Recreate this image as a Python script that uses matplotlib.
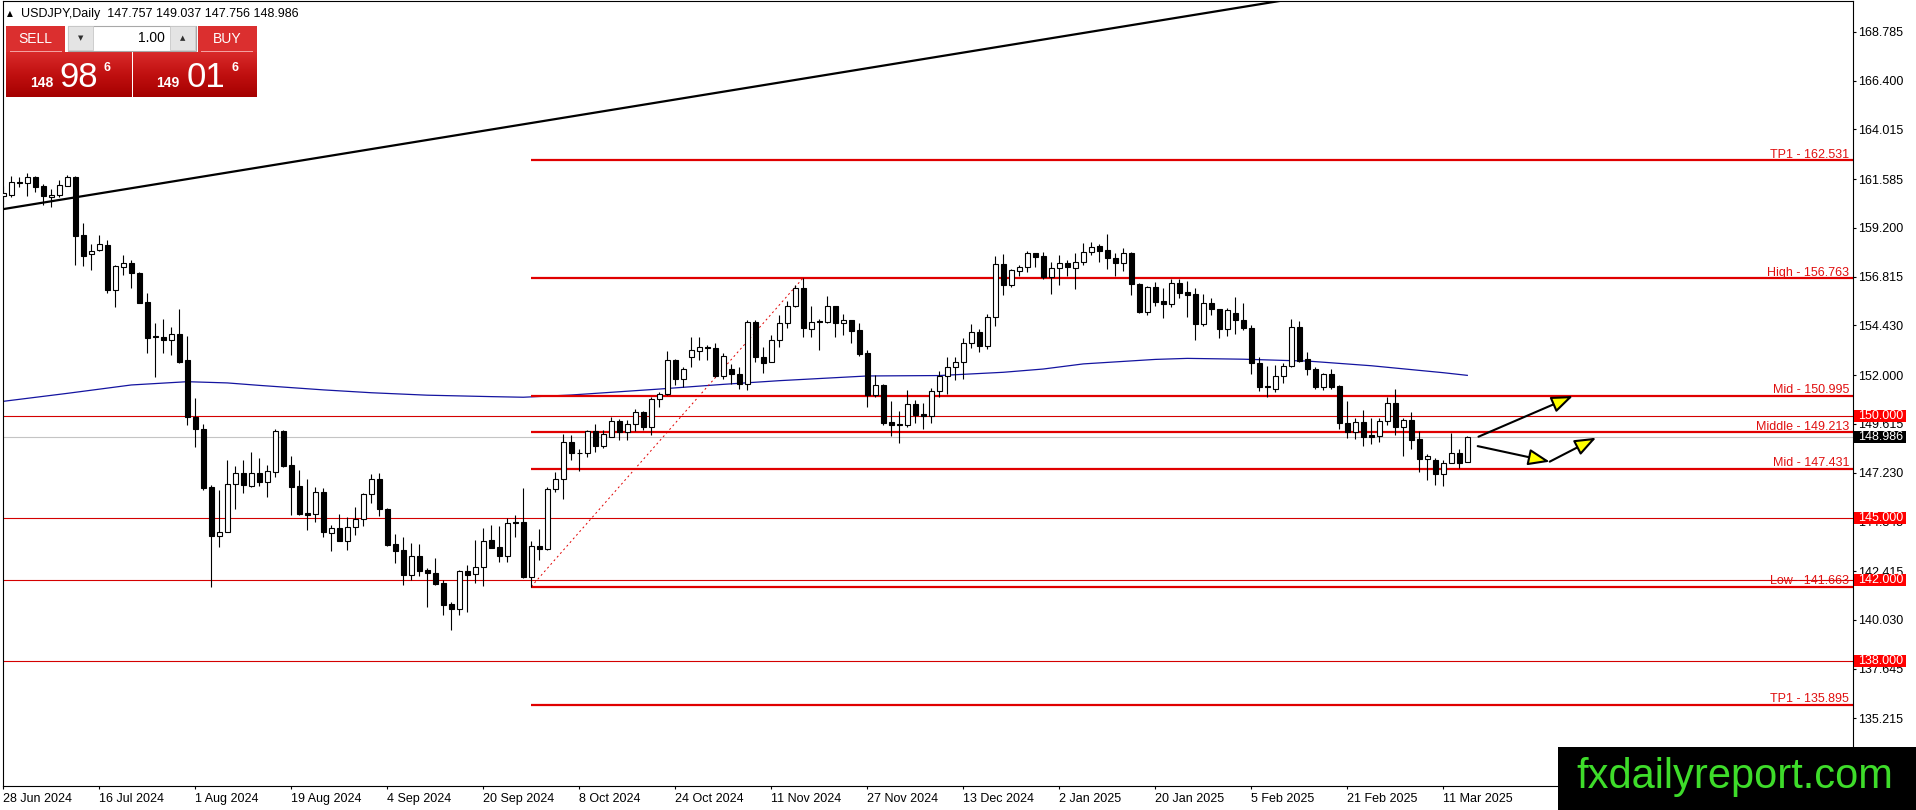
import numpy as np
import pandas as pd
import matplotlib
matplotlib.use('Agg')
import matplotlib.pyplot as plt
from matplotlib.patches import Rectangle
from matplotlib.colors import LinearSegmentedColormap
import matplotlib.transforms as mtransforms

plt.rcParams['font.family'] = ['Liberation Sans', 'DejaVu Sans']

# ---------------- data ----------------
symbol_title = "USDJPY,Daily  147.757 149.037 147.756 148.986"
dates = [d for d in pd.bdate_range('2024-06-28', '2025-03-14')
         if d.strftime('%m-%d') not in ('12-25', '01-01')]

opens = [160.76, 160.80, 161.44, 161.42, 161.71, 161.25, 160.70, 160.82, 161.25, 161.67,
         158.85, 157.90, 158.10, 158.37, 156.17, 157.30, 157.47, 156.98, 155.56, 153.90,
         153.88, 153.72, 154.02, 152.74, 149.97, 149.35, 146.51, 144.15, 144.31, 146.67,
         147.23, 146.60, 147.23, 146.79, 147.28, 149.27, 147.61, 146.58, 145.24, 145.21,
         146.27, 144.26, 144.51, 143.91, 144.56, 144.95, 146.19, 146.91, 145.44, 143.74,
         143.45, 142.23, 143.16, 142.47, 142.34, 141.85, 140.81, 140.58, 142.42, 142.28,
         142.60, 143.94, 143.61, 143.16, 144.82, 144.82, 142.15, 143.64, 143.52, 146.41,
         146.90, 148.71, 148.20, 148.17, 149.28, 148.55, 148.99, 149.74, 149.23, 149.59,
         150.18, 149.48, 150.82, 151.06, 152.74, 151.79, 152.90, 153.20, 153.36, 153.31,
         151.96, 152.30, 152.08, 151.59, 154.59, 152.90, 152.65, 153.72, 154.56, 155.39,
         156.24, 154.28, 154.64, 154.61, 155.39, 154.53, 154.69, 154.20, 153.10, 151.03,
         151.52, 149.69, 149.61, 149.56, 150.57, 150.10, 150.00, 151.22, 151.96, 152.41,
         152.62, 153.59, 154.12, 153.42, 154.82, 157.42, 156.41, 157.11, 157.30, 157.95,
         157.82, 156.81, 157.25, 157.46, 157.25, 157.55, 158.04, 158.31, 158.12, 157.71,
         157.46, 157.99, 156.46, 155.10, 156.29, 155.62, 155.46, 156.49, 156.06, 155.99,
         154.48, 155.51, 155.22, 154.24, 155.02, 154.72, 154.33, 152.57, 151.47, 151.31,
         151.95, 152.44, 154.36, 152.77, 152.28, 151.43, 152.05, 151.47, 149.64, 149.24,
         149.69, 149.07, 149.02, 149.77, 150.62, 149.48, 149.80, 148.86, 147.91, 147.85,
         147.15, 147.69, 148.18, 147.757]
highs = [161.27, 161.74, 161.71, 161.90, 161.73, 161.35, 161.08, 161.55, 161.79, 161.74,
         159.42, 158.41, 158.85, 158.61, 157.39, 157.87, 157.63, 157.06, 156.00, 154.53,
         154.73, 154.37, 155.22, 153.91, 150.86, 149.60, 146.63, 146.38, 147.87, 147.55,
         147.85, 148.24, 147.93, 147.61, 149.35, 149.32, 148.05, 147.36, 146.91, 146.55,
         146.47, 144.67, 145.21, 145.05, 145.57, 146.22, 147.17, 147.23, 145.49, 144.23,
         144.10, 143.78, 143.74, 142.55, 143.04, 141.98, 140.92, 142.47, 142.72, 143.94,
         144.51, 144.67, 144.62, 145.03, 145.18, 146.46, 143.90, 144.50, 146.51, 147.28,
         149.12, 149.07, 148.39, 149.34, 149.61, 149.31, 149.97, 149.84, 149.80, 150.33,
         150.26, 150.91, 151.19, 153.20, 152.77, 152.38, 153.85, 153.85, 153.47, 153.59,
         153.06, 152.54, 152.38, 154.69, 154.69, 153.36, 153.96, 154.94, 155.64, 156.40,
         156.763, 155.38, 154.77, 155.87, 155.39, 154.98, 154.72, 154.53, 153.23, 152.01,
         151.57, 150.75, 150.26, 151.27, 150.78, 150.65, 151.35, 152.20, 152.87, 152.87,
         153.80, 154.50, 154.28, 154.99, 157.82, 157.92, 157.17, 157.38, 158.09, 157.95,
         158.03, 157.55, 157.87, 157.63, 157.95, 158.44, 158.52, 158.41, 158.90, 157.95,
         158.20, 158.04, 156.49, 156.36, 156.57, 156.24, 156.68, 156.68, 156.62, 156.24,
         155.97, 155.75, 155.22, 155.26, 155.83, 155.54, 154.45, 152.87, 152.44, 152.49,
         152.61, 154.77, 154.66, 153.15, 152.38, 152.12, 152.28, 151.51, 150.75, 149.89,
         150.29, 149.89, 149.89, 150.95, 151.30, 149.89, 150.18, 149.28, 148.14, 147.93,
         147.85, 149.19, 148.37, 149.037]
lows = [160.28, 160.72, 161.22, 160.76, 160.98, 160.32, 160.24, 160.73, 161.25, 157.39,
        157.34, 157.14, 158.05, 156.04, 155.35, 156.89, 156.27, 155.54, 153.10, 151.93,
        153.10, 152.98, 152.61, 149.56, 148.50, 146.38, 141.66, 143.61, 144.31, 145.44,
        146.25, 146.55, 146.58, 146.06, 147.04, 147.53, 145.16, 145.16, 144.43, 144.84,
        144.10, 143.42, 143.91, 143.45, 144.18, 144.62, 145.76, 145.11, 143.65, 142.83,
        141.74, 141.98, 142.18, 140.68, 141.74, 140.27, 139.54, 140.27, 140.43, 141.85,
        141.69, 143.56, 142.88, 142.88, 144.08, 142.07, 141.663, 142.98, 143.46, 146.30,
        145.92, 147.85, 147.33, 148.01, 148.26, 148.42, 148.99, 148.83, 148.83, 149.28,
        149.32, 149.07, 150.45, 151.03, 151.51, 151.40, 152.38, 152.74, 152.74, 151.89,
        151.80, 151.56, 151.30, 151.27, 152.66, 152.12, 152.65, 153.39, 154.33, 155.31,
        153.85, 153.85, 153.23, 154.53, 153.88, 153.96, 153.56, 152.93, 150.46, 150.91,
        149.56, 149.02, 148.66, 149.48, 149.64, 149.35, 149.67, 150.92, 151.10, 151.76,
        151.79, 153.31, 153.15, 153.28, 154.40, 155.92, 156.33, 156.85, 157.06, 157.30,
        156.68, 155.97, 156.40, 156.85, 156.19, 157.38, 157.87, 157.55, 157.17, 156.85,
        157.10, 155.92, 155.02, 154.94, 155.38, 154.78, 155.34, 155.75, 154.83, 153.72,
        154.40, 154.94, 153.80, 153.91, 153.99, 154.20, 152.05, 151.24, 150.91, 151.19,
        151.63, 152.38, 152.65, 151.99, 151.30, 151.27, 151.30, 149.39, 148.91, 148.86,
        148.54, 148.63, 148.75, 149.56, 149.07, 148.05, 148.37, 147.28, 146.87, 146.63,
        146.58, 147.69, 147.44, 147.756]
closes = [160.89, 161.46, 161.42, 161.68, 161.22, 160.76, 160.82, 161.30, 161.67, 158.80,
          157.82, 158.08, 158.42, 156.17, 157.33, 157.47, 157.01, 155.54, 153.83, 153.86,
          153.72, 154.02, 152.66, 149.97, 149.35, 146.46, 144.15, 144.31, 146.67, 147.23,
          146.63, 147.20, 146.79, 147.31, 149.27, 147.56, 146.55, 145.21, 145.18, 146.27,
          144.35, 144.51, 143.91, 144.56, 144.95, 146.19, 146.91, 145.44, 143.70, 143.42,
          142.23, 143.16, 142.44, 142.34, 141.79, 140.76, 140.58, 142.42, 142.24, 142.60,
          143.89, 143.56, 143.16, 144.77, 144.75, 142.15, 143.64, 143.52, 146.41, 146.90,
          148.71, 148.17, 148.17, 149.28, 148.55, 149.12, 149.74, 149.23, 149.59, 150.18,
          149.48, 150.82, 151.06, 152.74, 151.79, 152.30, 153.23, 153.36, 153.33, 151.96,
          152.95, 152.05, 151.59, 154.59, 152.90, 152.61, 153.70, 154.56, 155.39, 156.24,
          154.33, 154.61, 154.61, 155.39, 154.53, 154.72, 154.17, 153.03, 151.03, 151.52,
          149.68, 149.56, 149.56, 150.57, 150.05, 150.00, 151.22, 151.96, 152.41, 152.62,
          153.59, 154.12, 153.42, 154.82, 157.42, 156.41, 157.14, 157.30, 157.95, 157.79,
          156.78, 157.25, 157.46, 157.30, 157.55, 158.04, 158.28, 158.08, 157.71, 157.46,
          157.95, 156.46, 155.10, 156.29, 155.59, 155.46, 156.49, 156.03, 155.93, 154.48,
          155.51, 155.22, 154.24, 155.18, 154.72, 154.33, 152.57, 151.44, 151.40, 151.95,
          152.47, 154.36, 152.70, 152.28, 151.43, 152.05, 151.43, 149.64, 149.24, 149.69,
          148.99, 148.99, 149.77, 150.62, 149.48, 149.80, 148.82, 147.91, 148.04, 147.15,
          147.69, 148.18, 147.72, 148.986]

# moving average (blue line), sampled at bar indices
ma_idx = [0, 8, 16, 23, 28, 32, 40, 46, 53, 61, 65, 71, 82, 90, 97, 108, 117, 125, 130,
          135, 144, 148, 155, 161, 163, 171, 180, 183]
ma_val = [150.72, 151.11, 151.52, 151.68, 151.62, 151.50, 151.28, 151.14, 151.02, 150.95,
          150.92, 151.03, 151.32, 151.55, 151.73, 151.96, 151.98, 152.14, 152.30, 152.55,
          152.77, 152.82, 152.78, 152.71, 152.69, 152.46, 152.12, 151.99]

# trend line anchors (bar index, price)
trend_pts = [(0.0, 160.12), (158.5, 170.23)]

# projection levels
level_names = ['TP1', 'High', 'Mid', 'Middle', 'Mid', 'Low', 'TP1']
level_prices = [162.531, 156.763, 150.995, 149.213, 147.431, 141.663, 135.895]
level_start = 66
swing = [(66, 141.663), (100, 156.763)]
round_levels = [150.000, 145.000, 142.000, 138.000]
bid_price = 148.986

# price scale labels
y_ticks = [135.215, 137.645, 140.030, 142.415, 144.845, 147.230, 149.615, 152.000,
           154.430, 156.815, 159.200, 161.585, 164.015, 166.400, 168.785]

# forecast arrows (bar index, price)
arrows = [((184.4, 148.99), (196.2, 150.98)),
          ((184.3, 148.53), (193.3, 147.77)),
          ((193.3, 147.77), (199.1, 148.94))]

# ---------------- figure ----------------
W, H = 1916, 810
fig = plt.figure(figsize=(W / 100, H / 100), dpi=100)
fig.patch.set_facecolor('white')

ax = fig.add_axes([2.5 / W, 24 / H, (1852.7 - 2.5) / W, (786 - 0.5) / H])
XMAX = 231.175
ax.set_xlim(-0.1, XMAX)
ax.set_ylim(131.91, 170.32)
ax.set_facecolor('white')

o = np.array(opens); h = np.array(highs); l = np.array(lows); c = np.array(closes)
idx = np.arange(len(o))
up = c >= o
bottoms = np.minimum(o, c)
heights = np.abs(c - o)

ax.vlines(idx, l, h, color='black', lw=0.8, zorder=3)
ax.bar(idx[up], heights[up], bottom=bottoms[up], width=0.56, facecolor='white',
       edgecolor='black', linewidth=0.8, zorder=4)
ax.bar(idx[~up], heights[~up], bottom=bottoms[~up], width=0.56, facecolor='black',
       edgecolor='black', linewidth=0.8, zorder=4)

# MA
ax.plot(ma_idx, ma_val, color='#1414a0', lw=0.9, zorder=2)

# trend line
ax.axline(trend_pts[0], trend_pts[1], color='black', lw=1.6, zorder=5)

# round levels
for p in round_levels:
    ax.axhline(p, color='#d40000', lw=0.8, zorder=1)
# bid line
ax.axhline(bid_price, color='#c4c4c4', lw=0.8, zorder=1)

# projection levels
ax.hlines(level_prices, level_start - 0.04, XMAX, colors='#e00000', lw=1.6, zorder=2)
for name, p in zip(level_names, level_prices):
    ax.annotate(f"{name} - {p:.3f}", xy=(230.75, p), xytext=(0, 1.6),
                textcoords='offset points', ha='right', va='baseline',
                color='#e01010', fontsize=9, zorder=6)
ax.plot([swing[0][0], swing[1][0]], [swing[0][1], swing[1][1]], color='#e00000',
        lw=0.7, ls=(0, (2, 3)), zorder=2)

# arrows
for (x0, y0), (x1, y1) in arrows:
    ax.annotate('', xy=(x1, y1), xytext=(x0, y0),
                arrowprops=dict(arrowstyle='-|>,head_length=1.3,head_width=0.5',
                                fc='#ffff00', ec='black', lw=1.5,
                                shrinkA=0, shrinkB=0), zorder=7)

# spines
for s in ax.spines.values():
    s.set_color('black')
    s.set_linewidth(0.8)

# y ticks on right
ax.yaxis.tick_right()
ax.set_yticks(y_ticks)
ax.set_yticklabels([f"{v:.3f}" for v in y_ticks], fontsize=9)
ax.tick_params(axis='y', which='both', length=2.2, width=0.8, pad=2.0,
               colors='black', labelsize=9)

# x ticks
xt = list(range(0, len(dates), 12))
ax.set_xticks(xt)
ax.set_xticklabels([f"{dates[i].day} {dates[i]:%b %Y}" for i in xt], ha='left', fontsize=9)
ax.tick_params(axis='x', length=2.2, width=0.8, pad=2.6, colors='black', labelsize=9)

# price tags
bt = mtransforms.blended_transform_factory(ax.transAxes, ax.transData)
tag_w = 52.3 / ((1852.7 - 2.5))
tag_h = 12 / 20.45
for p in round_levels:
    ax.add_patch(Rectangle((1 + 1 / 1850.2, p - tag_h / 2), tag_w, tag_h, transform=bt,
                           facecolor='#ff0000', edgecolor='none', clip_on=False, zorder=10))
    ax.text(1 + 5.5 / 1850.2, p, f"{p:.3f}", transform=bt, color='white', fontsize=9,
            ha='left', va='center', clip_on=False, zorder=11)
ax.add_patch(Rectangle((1 + 1 / 1850.2, bid_price - tag_h / 2), tag_w, tag_h, transform=bt,
                       facecolor='black', edgecolor='none', clip_on=False, zorder=10))
ax.text(1 + 5.5 / 1850.2, bid_price, f"{bid_price:.3f}", transform=bt, color='white',
        fontsize=9, ha='left', va='center', clip_on=False, zorder=11)

# ---------------- header / trade panel ----------------
def fx(x):
    return x / W

def fy(y):
    return 1 - y / H

def frect(x0, y0, x1, y1, **kw):
    r = Rectangle((fx(x0), fy(y1)), (x1 - x0) / W, (y1 - y0) / H,
                  transform=fig.transFigure, **kw)
    fig.add_artist(r)

fig.text(fx(7), fy(16.5), '\u25B2', fontsize=5.5, family='DejaVu Sans', va='baseline')
fig.text(fx(21), fy(16.5), symbol_title, fontsize=9, va='baseline')

# SELL / BUY buttons
frect(6, 25.7, 65, 52.3, facecolor='#db2f2f', edgecolor='none', zorder=5)
frect(198.3, 25.7, 256.7, 52.3, facecolor='#db2f2f', edgecolor='none', zorder=5)
frect(10, 51.0, 62, 51.8, facecolor='#f3a0a0', edgecolor='none', zorder=6)
frect(201, 51.0, 253, 51.8, facecolor='#f3a0a0', edgecolor='none', zorder=6)
fig.text(fx(35.5), fy(39), 'SELL', color='white', fontsize=10, ha='center', va='center', zorder=7)
fig.text(fx(227.5), fy(39), 'BUY', color='white', fontsize=10, ha='center', va='center', zorder=7)

# lot spinner
frect(67.7, 25.7, 195.7, 50.7, facecolor='white', edgecolor='#a8a8a8', lw=0.8, zorder=5)
frect(68.2, 26.2, 92.7, 50.2, facecolor='#e4e4e4', edgecolor='#c8c8c8', lw=0.6, zorder=6)
frect(170.0, 26.2, 195.2, 50.2, facecolor='#e4e4e4', edgecolor='#c8c8c8', lw=0.6, zorder=6)
fig.text(fx(80.5), fy(38), '\u25BC', fontsize=5, family='DejaVu Sans', ha='center',
         va='center', color='#303030', zorder=7)
fig.text(fx(182.6), fy(38), '\u25B2', fontsize=5, family='DejaVu Sans', ha='center',
         va='center', color='#303030', zorder=7)
fig.text(fx(165), fy(38), '1.00', fontsize=10, ha='right', va='center', color='black', zorder=7)

# price boxes with gradient
grad_cmap = LinearSegmentedColormap.from_list('rg', ['#d92a2a', '#c01010', '#a50000'])
grad = np.linspace(0, 1, 64).reshape(-1, 1)
for (x0, x1) in [(6, 131), (133.3, 256.7)]:
    gax = fig.add_axes([fx(x0), fy(96.7), (x1 - x0) / W, (96.7 - 52.3) / H])
    gax.imshow(grad, aspect='auto', cmap=grad_cmap, interpolation='bilinear')
    gax.set_axis_off()

sell_parts = ('148', '98', '6')
buy_parts = ('149', '01', '6')
for parts, xs in [(sell_parts, (30.5, 59.5, 103.5)), (buy_parts, (156.0, 186.5, 231.0))]:
    fig.text(fx(xs[0]), fy(87.3), parts[0], color='white', fontsize=10, weight='bold',
             va='baseline', zorder=7)
    fig.text(fx(xs[1]), fy(87.3), parts[1], color='white', fontsize=25, va='baseline', zorder=7)
    fig.text(fx(xs[2]), fy(70.7), parts[2], color='white', fontsize=9, weight='bold',
             va='baseline', zorder=7)

# watermark
frect(1557.7, 746.7, 1916, 810, facecolor='black', edgecolor='none', zorder=8)
fig.text(fx(1576), fy(788.3), 'fxdailyreport.com', color='#3edc2a', fontsize=30,
         va='baseline', ha='left', zorder=9)

fig.savefig('out.png', dpi=100, facecolor='white')
